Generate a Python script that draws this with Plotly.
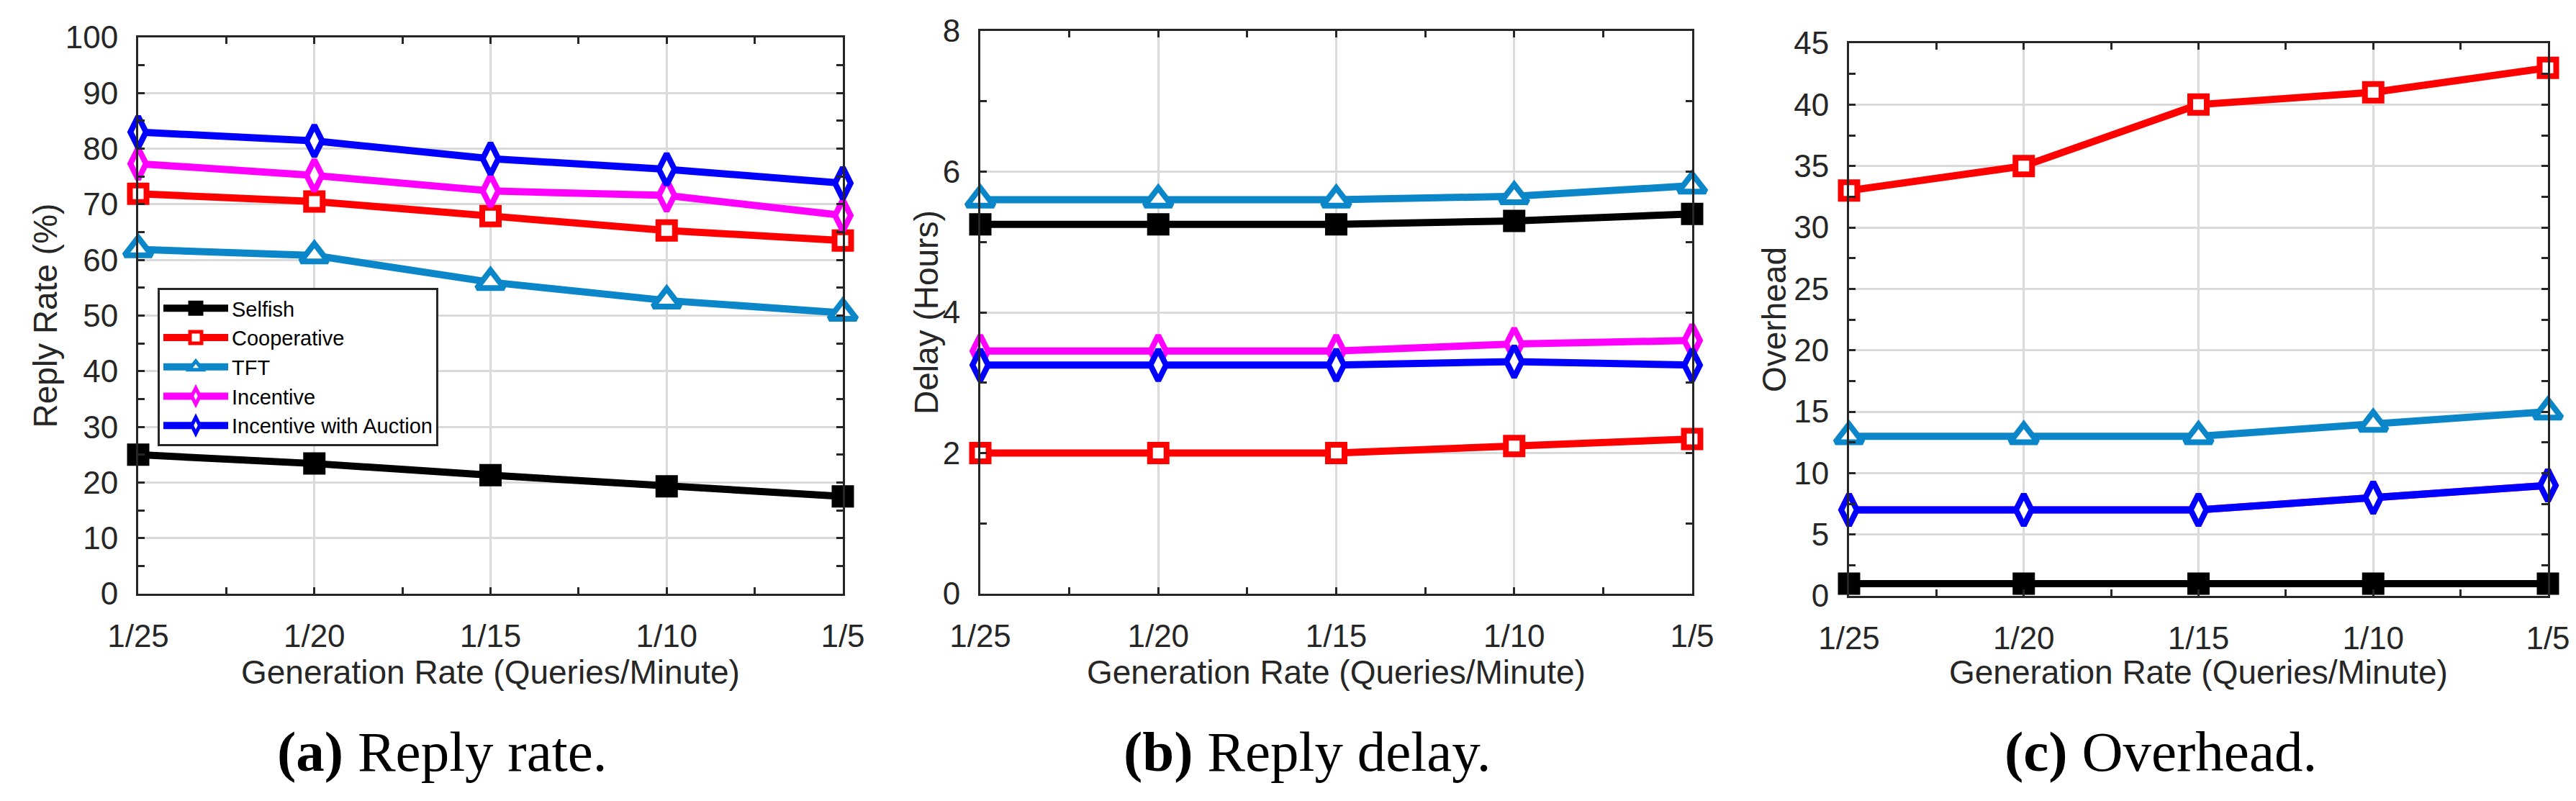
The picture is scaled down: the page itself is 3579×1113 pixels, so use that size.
import plotly.graph_objects as go

# ---------------- data ----------------
categories = ["1/25", "1/20", "1/15", "1/10", "1/5"]
series_names = ["Selfish", "Cooperative", "TFT", "Incentive", "Incentive with Auction"]

reply_selfish = [25.0, 23.4, 21.3, 19.3, 17.5]
reply_coop = [71.9, 70.5, 67.9, 65.3, 63.5]
reply_tft = [61.9, 60.8, 56.0, 52.7, 50.5]
reply_incentive = [77.3, 75.2, 72.4, 71.6, 68.0]
reply_auction = [83.0, 81.4, 78.2, 76.3, 73.8]

delay_selfish = [5.25, 5.25, 5.25, 5.3, 5.4]
delay_coop = [2.0, 2.0, 2.0, 2.1, 2.2]
delay_tft = [5.6, 5.6, 5.6, 5.65, 5.8]
delay_incentive = [3.45, 3.45, 3.45, 3.55, 3.6]
delay_auction = [3.25, 3.25, 3.25, 3.3, 3.25]

overhead_selfish = [1, 1, 1, 1, 1]
overhead_coop = [33, 35, 40, 41, 43]
overhead_tft = [13, 13, 13, 14, 15]
overhead_incentive = [7, 7, 7, 8, 9]
overhead_auction = [7, 7, 7, 8, 9]

panel_titles = ["Reply Rate (%)", "Delay (Hours)", "Overhead"]
captions = ["<b>(a)</b> Reply rate.", "<b>(b)</b> Reply delay.", "<b>(c)</b> Overhead."]
x_title = "Generation Rate (Queries/Minute)"

# ---------------- style ----------------
W, H = 3579, 1113
SANS = "Liberation Sans, Arial, Helvetica, sans-serif"
SERIF = "Liberation Serif, Times New Roman, serif"
AX = "#262626"
GRID = "#DADADA"

colors = ["#000000", "#FF0000", "#0B86C8", "#FF00FF", "#0000FF"]
symbols = ["square", "square", "triangle-up", "diamond-tall", "diamond-tall"]
fills = ["#000000", "#FFFFFF", "#FFFFFF", "#FFFFFF", "#FFFFFF"]
msizes = [23, 23, 33, 31, 31]

panels = [
    [reply_selfish, reply_coop, reply_tft, reply_incentive, reply_auction],
    [delay_selfish, delay_coop, delay_tft, delay_incentive, delay_auction],
    [overhead_selfish, overhead_coop, overhead_tft, overhead_incentive, overhead_auction],
]
y_ranges = [[0, 100], [0, 8], [0, 45]]
y_dticks = [10, 2, 5]

# pixel geometry of plot areas (left, right, top, bottom)
boxes = [(184, 1163, 44, 817), (1354, 2343, 35, 817), (2561, 3532, 52, 820)]
ytitle_x = [54, 1279, 2457]
caption_x = [606, 1808, 2994]

xpos = list(range(len(categories)))

fig = go.Figure()

for p, series in enumerate(panels):
    sfx = "" if p == 0 else str(p + 1)
    for i, vals in enumerate(series):
        fig.add_trace(go.Scatter(
            x=xpos, y=vals, name=series_names[i],
            mode="lines+markers",
            line=dict(color=colors[i], width=10),
            marker=dict(symbol=symbols[i], size=msizes[i], color=fills[i],
                        line=dict(color=colors[i], width=8)),
            cliponaxis=False,
            showlegend=(p == 0),
            legendgroup=series_names[i],
            xaxis="x" + sfx, yaxis="y" + sfx,
        ))

layout = dict(
    template="none",
    width=W, height=H,
    margin=dict(l=0, r=0, t=0, b=0, pad=0, autoexpand=False),
    paper_bgcolor="white", plot_bgcolor="white",
    showlegend=True,
    legend=dict(
        x=211 / W, y=1 - 392 / H, xanchor="left", yanchor="top",
        bgcolor="white", bordercolor=AX, borderwidth=3,
        font=dict(family=SANS, size=29, color="black"),
        tracegroupgap=0, itemwidth=90,
    ),
    annotations=[],
)

for p in range(3):
    sfx = "" if p == 0 else str(p + 1)
    l, r, t, b = boxes[p]
    xd = [l / W, r / W]
    yd = [1 - b / H, 1 - t / H]
    layout["xaxis" + sfx] = dict(
        domain=xd, anchor="y" + sfx, range=[0, len(categories) - 1],
        automargin=False,
        tickmode="array", tickvals=xpos, ticktext=categories,
        showgrid=True, gridcolor=GRID, gridwidth=3, zeroline=False,
        showline=True, linecolor=AX, linewidth=3, mirror="ticks",
        ticks="inside", ticklen=9, tickwidth=3, tickcolor=AX,
        tickfont=dict(family=SANS, size=44, color=AX),
        ticklabelstandoff=18,
        minor=dict(tickmode="linear", tick0=0, dtick=0.5, ticks="inside",
                   ticklen=9, tickwidth=3, tickcolor=AX, showgrid=False),
        fixedrange=True,
    )
    layout["yaxis" + sfx] = dict(
        domain=yd, anchor="x" + sfx, range=y_ranges[p],
        automargin=False,
        tickmode="linear", tick0=0, dtick=y_dticks[p],
        showgrid=True, gridcolor=GRID, gridwidth=3, zeroline=False,
        showline=True, linecolor=AX, linewidth=3, mirror="ticks",
        ticks="inside", ticklen=9, tickwidth=3, tickcolor=AX,
        tickfont=dict(family=SANS, size=44, color=AX),
        ticklabelstandoff=16,
        minor=dict(tickmode="linear", tick0=0, dtick=y_dticks[p] / 2, ticks="inside",
                   ticklen=9, tickwidth=3, tickcolor=AX, showgrid=False),
        fixedrange=True,
    )
    # y-axis title
    layout["annotations"].append(dict(
        text=panel_titles[p], x=ytitle_x[p] / W, y=1 - ((t + b) / 2) / H,
        xref="paper", yref="paper", xanchor="center", yanchor="middle",
        textangle=-90, showarrow=False,
        font=dict(family=SANS, size=46, color=AX),
    ))
    # x-axis title
    layout["annotations"].append(dict(
        text=x_title, x=((l + r) / 2) / W, y=1 - 926 / H,
        xref="paper", yref="paper", xanchor="center", yanchor="middle",
        showarrow=False, font=dict(family=SANS, size=46, color=AX),
    ))
    # caption
    layout["annotations"].append(dict(
        text=captions[p], x=caption_x[p] / W, y=1 - 1036 / H,
        xref="paper", yref="paper", xanchor="center", yanchor="middle",
        showarrow=False, font=dict(family=SERIF, size=79, color="black"),
    ))

fig.update_layout(**layout)
fig.write_html("out.html")
